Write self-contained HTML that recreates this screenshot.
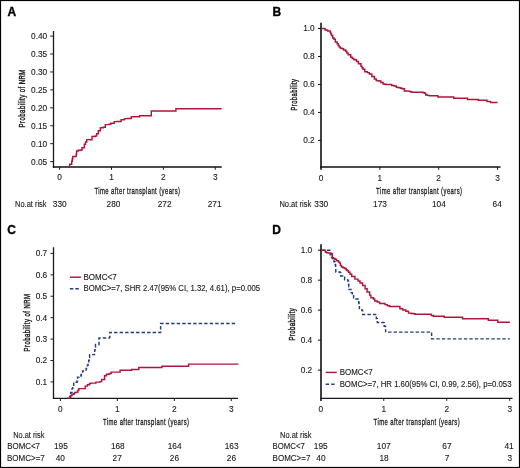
<!DOCTYPE html>
<html><head><meta charset="utf-8"><style>
html,body{margin:0;padding:0;background:#fff;}
body{width:520px;height:468px;overflow:hidden;}
svg{display:block;}
text{font-family:"Liberation Sans",sans-serif;fill:#1a1a1a;stroke:#1a1a1a;stroke-width:0.12px;}
</style></head><body>
<svg width="520" height="468" viewBox="0 0 520 468">
<rect x="0" y="0" width="520" height="468" fill="#fff"/>
<line x1="53.50" y1="31.00" x2="53.50" y2="167.70" stroke="#1a1a1a" stroke-width="1.30" />
<line x1="52.85" y1="167.00" x2="221.70" y2="167.00" stroke="#111" stroke-width="1.60" />
<line x1="50.20" y1="36.10" x2="53.50" y2="36.10" stroke="#1e1e1e" stroke-width="1.00" />
<line x1="50.20" y1="54.03" x2="53.50" y2="54.03" stroke="#1e1e1e" stroke-width="1.00" />
<line x1="50.20" y1="71.96" x2="53.50" y2="71.96" stroke="#1e1e1e" stroke-width="1.00" />
<line x1="50.20" y1="89.89" x2="53.50" y2="89.89" stroke="#1e1e1e" stroke-width="1.00" />
<line x1="50.20" y1="107.82" x2="53.50" y2="107.82" stroke="#1e1e1e" stroke-width="1.00" />
<line x1="50.20" y1="125.75" x2="53.50" y2="125.75" stroke="#1e1e1e" stroke-width="1.00" />
<line x1="50.20" y1="143.68" x2="53.50" y2="143.68" stroke="#1e1e1e" stroke-width="1.00" />
<line x1="50.20" y1="161.61" x2="53.50" y2="161.61" stroke="#1e1e1e" stroke-width="1.00" />
<line x1="59.60" y1="167.00" x2="59.60" y2="169.80" stroke="#1e1e1e" stroke-width="1.00" />
<line x1="111.50" y1="167.00" x2="111.50" y2="169.80" stroke="#1e1e1e" stroke-width="1.00" />
<line x1="163.40" y1="167.00" x2="163.40" y2="169.80" stroke="#1e1e1e" stroke-width="1.00" />
<line x1="215.30" y1="167.00" x2="215.30" y2="169.80" stroke="#1e1e1e" stroke-width="1.00" />
<path d="M67.90,167.00 H69.60 V164.20 H71.70 V161.20 H72.25 V158.80 H72.80 V156.40 H75.40 V156.40 H76.20 V153.90 H76.60 V150.90 H78.20 V150.30 H81.40 V149.90 H82.00 V147.80 H84.30 V144.20 H85.50 V141.90 H86.70 V139.60 H90.00 V139.70 H92.00 V136.40 H95.20 V136.00 H96.60 V133.80 H98.30 V130.70 H100.30 V127.80 H103.20 V127.20 H105.30 V124.60 H109.00 V124.30 H110.70 V123.20 H113.40 V123.20 H114.20 V121.60 H117.25 V121.55 H120.30 V121.50 H121.10 V119.80 H124.00 V119.50 H124.60 V118.60 H127.50 V118.50 H130.40 V118.40 H131.30 V116.70 H133.67 V116.70 H136.03 V116.70 H138.40 V116.70 H139.60 V115.80 H141.94 V115.80 H144.28 V115.80 H146.62 V115.80 H148.96 V115.80 H151.30 V115.80 H151.30 V113.40 H151.30 V111.00 H153.54 V111.00 H155.77 V111.00 H158.01 V111.00 H160.25 V111.00 H162.48 V111.00 H164.72 V111.00 H166.95 V111.00 H169.19 V111.00 H171.43 V111.00 H173.66 V111.00 H175.90 V111.00 H175.90 V108.70 H178.19 V108.70 H180.47 V108.70 H182.75 V108.70 H185.04 V108.70 H187.32 V108.70 H189.61 V108.70 H191.90 V108.70 H194.18 V108.70 H196.47 V108.70 H198.75 V108.70 H201.03 V108.70 H203.32 V108.70 H205.60 V108.70 H207.89 V108.70 H210.18 V108.70 H212.46 V108.70 H214.75 V108.70 H217.03 V108.70 H219.31 V108.70 H221.60 V108.70" fill="none" stroke="#ad163a" stroke-width="1.45" stroke-linejoin="miter" />
<line x1="321.00" y1="22.70" x2="321.00" y2="169.70" stroke="#111" stroke-width="1.60" />
<line x1="320.20" y1="167.00" x2="500.50" y2="167.00" stroke="#111" stroke-width="1.60" />
<line x1="318.00" y1="28.50" x2="321.10" y2="28.50" stroke="#111" stroke-width="1.00" />
<line x1="318.00" y1="56.48" x2="321.10" y2="56.48" stroke="#111" stroke-width="1.00" />
<line x1="318.00" y1="84.45" x2="321.10" y2="84.45" stroke="#111" stroke-width="1.00" />
<line x1="318.00" y1="112.43" x2="321.10" y2="112.43" stroke="#111" stroke-width="1.00" />
<line x1="318.00" y1="140.40" x2="321.10" y2="140.40" stroke="#111" stroke-width="1.00" />
<line x1="379.83" y1="167.00" x2="379.83" y2="169.70" stroke="#111" stroke-width="1.00" />
<line x1="438.66" y1="167.00" x2="438.66" y2="169.70" stroke="#111" stroke-width="1.00" />
<line x1="497.49" y1="167.00" x2="497.49" y2="169.70" stroke="#111" stroke-width="1.00" />
<path d="M321.20,28.50 H323.80 V28.50 H325.00 V30.00 H327.60 V31.00 H330.20 V32.50 H330.85 V34.00 H331.50 V35.50 H332.70 V38.00 H334.00 V39.30 H335.30 V41.90 H337.20 V43.80 H338.20 V45.40 H339.20 V47.00 H340.40 V48.30 H342.40 V48.70 H343.60 V50.00 H345.60 V51.20 H346.85 V52.95 H348.10 V54.70 H350.70 V57.30 H352.30 V58.55 H353.90 V59.80 H356.50 V61.50 H358.40 V63.70 H361.00 V66.20 H361.95 V67.70 H362.90 V69.20 H364.80 V71.70 H367.40 V72.60 H369.30 V73.90 H371.80 V76.50 H374.40 V79.00 H376.20 V80.50 H377.60 V80.75 H379.00 V81.00 H380.80 V82.50 H383.10 V84.00 H384.55 V84.25 H386.00 V84.50 H388.00 V84.50 H390.00 V84.50 H391.70 V85.40 H394.00 V86.00 H396.30 V87.30 H397.75 V87.50 H399.20 V87.70 H400.65 V88.25 H402.10 V88.80 H404.40 V90.90 H406.15 V91.00 H407.90 V91.10 H409.35 V91.55 H410.80 V92.00 H412.50 V92.15 H414.20 V92.30 H415.70 V92.30 H417.20 V92.30 H418.70 V92.30 H420.20 V92.30 H421.70 V92.30 H423.15 V92.75 H424.60 V93.20 H425.70 V95.00 H427.45 V95.35 H429.20 V95.70 H430.80 V95.70 H432.40 V95.70 H434.00 V95.70 H435.60 V95.70 H437.20 V95.70 H437.90 V97.00 H439.39 V97.00 H440.88 V97.00 H442.37 V97.00 H443.86 V97.00 H445.35 V97.00 H446.84 V97.00 H448.33 V97.00 H449.82 V97.00 H451.31 V97.00 H452.80 V97.00 H453.80 V98.20 H455.35 V98.20 H456.90 V98.20 H458.45 V98.20 H460.00 V98.20 H461.55 V98.20 H463.10 V98.20 H464.65 V98.20 H466.20 V98.20 H467.50 V99.40 H468.90 V99.40 H470.30 V99.40 H471.70 V99.40 H473.10 V99.40 H474.50 V99.40 H475.90 V99.40 H477.30 V99.40 H478.30 V100.20 H479.92 V100.20 H481.54 V100.20 H483.16 V100.20 H484.78 V100.20 H486.40 V100.20 H487.00 V101.40 H488.45 V101.50 H489.90 V101.60 H490.60 V102.40 H492.33 V102.40 H494.05 V102.40 H495.77 V102.40 H497.50 V102.40" fill="none" stroke="#ad163a" stroke-width="1.45" stroke-linejoin="miter" />
<line x1="53.50" y1="247.25" x2="53.50" y2="398.95" stroke="#1a1a1a" stroke-width="1.30" />
<line x1="52.85" y1="398.30" x2="238.00" y2="398.30" stroke="#1a1a1a" stroke-width="1.30" />
<line x1="50.50" y1="253.40" x2="53.60" y2="253.40" stroke="#1e1e1e" stroke-width="1.00" />
<line x1="50.50" y1="274.82" x2="53.60" y2="274.82" stroke="#1e1e1e" stroke-width="1.00" />
<line x1="50.50" y1="296.24" x2="53.60" y2="296.24" stroke="#1e1e1e" stroke-width="1.00" />
<line x1="50.50" y1="317.66" x2="53.60" y2="317.66" stroke="#1e1e1e" stroke-width="1.00" />
<line x1="50.50" y1="339.08" x2="53.60" y2="339.08" stroke="#1e1e1e" stroke-width="1.00" />
<line x1="50.50" y1="360.50" x2="53.60" y2="360.50" stroke="#1e1e1e" stroke-width="1.00" />
<line x1="50.50" y1="381.92" x2="53.60" y2="381.92" stroke="#1e1e1e" stroke-width="1.00" />
<line x1="60.40" y1="398.30" x2="60.40" y2="401.00" stroke="#1e1e1e" stroke-width="1.00" />
<line x1="117.37" y1="398.30" x2="117.37" y2="401.00" stroke="#1e1e1e" stroke-width="1.00" />
<line x1="174.34" y1="398.30" x2="174.34" y2="401.00" stroke="#1e1e1e" stroke-width="1.00" />
<line x1="231.31" y1="398.30" x2="231.31" y2="401.00" stroke="#1e1e1e" stroke-width="1.00" />
<line x1="69.90" y1="277.20" x2="80.90" y2="277.20" stroke="#ad163a" stroke-width="1.45" />
<line x1="69.90" y1="288.80" x2="80.00" y2="288.80" stroke="#1f3e82" stroke-width="1.45" stroke-dasharray="3.4 2.1"/>
<path d="M69.40,398.10 H70.05 V395.30 H70.70 V392.50 H72.00 V388.60 H72.80 V386.10 H73.70 V383.10 H75.00 V382.20 H77.10 V380.90 H77.50 V377.10 H79.20 V376.20 H80.90 V375.00 H81.40 V372.80 H82.60 V370.90 H84.80 V370.90 H86.10 V368.50 H87.40 V365.20 H88.05 V362.70 H88.70 V360.20 H89.15 V357.40 H89.60 V354.60 H91.95 V354.60 H94.30 V354.60 H94.50 V352.25 H94.70 V349.90 H95.10 V347.15 H95.50 V344.40 H99.00 V344.20 H99.00 V341.10 H99.00 V338.00 H101.70 V338.00 H104.40 V338.00 H107.10 V338.00 H109.80 V338.00" fill="none" stroke="#1f3e82" stroke-width="1.45" stroke-linejoin="miter" stroke-dasharray="3.4 2.1"/>
<path d="M109.8,338 V332.4 H160.6 V323.5 H236.3" fill="none" stroke="#1f3e82" stroke-width="1.45" stroke-linejoin="miter" stroke-dasharray="3.4 2.1" stroke-dashoffset="1.1"/>
<path d="M67.30,398.10 H69.80 V397.20 H70.70 V395.50 H72.00 V394.20 H73.70 V393.80 H74.50 V392.50 H76.70 V392.10 H77.90 V390.30 H78.80 V388.60 H81.60 V388.60 H84.40 V388.60 H85.20 V386.10 H87.40 V384.80 H89.50 V383.50 H90.80 V383.10 H95.00 V383.10 H95.90 V382.10 H100.10 V381.60 H101.60 V379.40 H104.60 V375.70 H106.40 V374.20 H109.40 V373.40 H111.20 V372.10 H113.87 V372.10 H116.53 V372.10 H119.20 V372.10 H120.10 V370.30 H122.78 V370.30 H125.45 V370.30 H128.12 V370.30 H130.80 V370.30 H131.70 V369.40 H133.90 V369.40 H136.10 V369.40 H138.30 V369.40 H138.80 V367.50 H141.05 V367.50 H143.30 V367.50 H145.55 V367.50 H147.80 V367.50 H150.05 V367.50 H152.30 V367.50 H154.55 V367.50 H156.80 V367.50 H159.05 V367.50 H161.30 V367.50 H161.90 V366.30 H164.12 V366.30 H166.35 V366.30 H168.57 V366.30 H170.80 V366.30 H173.03 V366.30 H175.25 V366.30 H177.47 V366.30 H179.70 V366.30 H181.93 V366.30 H184.15 V366.30 H186.38 V366.30 H188.60 V366.30 H188.60 V364.10 H190.86 V364.10 H193.12 V364.10 H195.38 V364.10 H197.64 V364.10 H199.90 V364.10 H202.15 V364.10 H204.41 V364.10 H206.67 V364.10 H208.93 V364.10 H211.19 V364.10 H213.45 V364.10 H215.71 V364.10 H217.97 V364.10 H220.23 V364.10 H222.49 V364.10 H224.75 V364.10 H227.00 V364.10 H229.26 V364.10 H231.52 V364.10 H233.78 V364.10 H236.04 V364.10 H238.30 V364.10" fill="none" stroke="#ad163a" stroke-width="1.45" stroke-linejoin="miter" />
<line x1="321.00" y1="244.20" x2="321.00" y2="401.00" stroke="#111" stroke-width="1.60" />
<line x1="320.20" y1="398.30" x2="512.50" y2="398.30" stroke="#1a1a1a" stroke-width="1.30" />
<line x1="317.90" y1="250.20" x2="321.10" y2="250.20" stroke="#111" stroke-width="1.00" />
<line x1="317.90" y1="280.17" x2="321.10" y2="280.17" stroke="#111" stroke-width="1.00" />
<line x1="317.90" y1="310.14" x2="321.10" y2="310.14" stroke="#111" stroke-width="1.00" />
<line x1="317.90" y1="340.11" x2="321.10" y2="340.11" stroke="#111" stroke-width="1.00" />
<line x1="317.90" y1="370.08" x2="321.10" y2="370.08" stroke="#111" stroke-width="1.00" />
<line x1="383.77" y1="398.30" x2="383.77" y2="400.90" stroke="#1e1e1e" stroke-width="1.00" />
<line x1="446.74" y1="398.30" x2="446.74" y2="400.90" stroke="#1e1e1e" stroke-width="1.00" />
<line x1="509.71" y1="398.30" x2="509.71" y2="400.90" stroke="#1e1e1e" stroke-width="1.00" />
<line x1="325.70" y1="372.40" x2="336.80" y2="372.40" stroke="#ad163a" stroke-width="1.45" />
<line x1="325.70" y1="384.15" x2="335.50" y2="384.15" stroke="#1f3e82" stroke-width="1.45" stroke-dasharray="3.4 2.1"/>
<path d="M321.50,250.30 H324.13 V250.30 H326.77 V250.30 H329.40 V250.30 H329.80 V252.55 H330.20 V254.80 H331.50 V257.50 H332.50 V259.50 H334.00 V261.80 H335.00 V264.50 H335.60 V268.50 H335.80 V272.00 H340.10 V272.60 H340.80 V275.90 H344.00 V277.20 H344.60 V279.70 H347.80 V281.00 H348.50 V284.20 H348.80 V286.80 H349.10 V289.40 H351.00 V292.60 H352.30 V295.80 H353.60 V299.00 H355.85 V299.00 H358.10 V299.00 H358.70 V302.80 H359.05 V305.70 H359.40 V308.60 H361.90 V310.50 H362.60 V314.40 H365.02 V314.40 H367.44 V314.40 H369.86 V314.40 H372.28 V314.40 H374.70 V314.40 H376.30 V318.50 H377.30 V322.50 H380.40 V322.55 H383.50 V322.60 H384.20 V326.20 H385.50 V329.20 H385.60 V332.10" fill="none" stroke="#1f3e82" stroke-width="1.45" stroke-linejoin="miter" stroke-dasharray="3.4 2.1"/>
<path d="M385.6,332.1 H431.6 V338.85 H509.9" fill="none" stroke="#1f3e82" stroke-width="1.45" stroke-linejoin="miter" stroke-dasharray="3.4 2.1" stroke-dashoffset="3.0"/>
<path d="M321.50,250.30 H325.00 V250.30 H325.40 V251.90 H326.50 V252.70 H328.10 V253.10 H330.00 V253.10 H331.50 V253.80 H332.30 V255.40 H332.30 V257.70 H333.50 V258.50 H335.00 V259.20 H336.50 V260.80 H338.50 V261.90 H339.60 V263.10 H340.40 V265.40 H341.50 V266.90 H343.10 V267.70 H344.60 V268.50 H346.20 V270.00 H347.30 V270.80 H348.50 V272.30 H350.00 V274.20 H351.70 V276.50 H354.90 V279.10 H358.10 V281.00 H360.00 V282.90 H362.60 V285.50 H365.10 V288.70 H367.10 V291.90 H369.60 V295.10 H370.90 V297.70 H373.50 V299.00 H374.70 V300.90 H377.30 V302.00 H379.60 V303.50 H383.50 V303.50 H385.00 V304.60 H387.30 V305.70 H389.60 V306.50 H391.90 V306.50 H394.20 V306.50 H396.50 V306.50 H398.80 V306.50 H399.90 V308.80 H402.70 V310.00 H405.80 V311.20 H408.50 V313.10 H411.00 V313.45 H413.50 V313.80 H415.00 V314.30 H417.30 V314.30 H419.60 V314.30 H421.90 V314.30 H424.20 V314.30 H426.50 V314.30 H428.80 V314.30 H431.20 V315.40 H433.50 V316.20 H435.80 V316.20 H438.10 V316.20 H440.40 V316.20 H442.70 V316.20 H444.20 V317.30 H446.44 V317.30 H448.68 V317.30 H450.91 V317.30 H453.15 V317.30 H455.39 V317.30 H457.62 V317.30 H459.86 V317.30 H462.10 V317.30 H462.50 V318.80 H464.79 V318.80 H467.08 V318.80 H469.37 V318.80 H471.66 V318.80 H473.95 V318.80 H476.25 V318.80 H478.54 V318.80 H480.83 V318.80 H483.12 V318.80 H485.41 V318.80 H487.70 V318.80 H488.30 V320.20 H490.57 V320.20 H492.85 V320.20 H495.12 V320.20 H497.40 V320.20 H497.80 V322.20 H500.22 V322.20 H502.64 V322.20 H505.06 V322.20 H507.48 V322.20 H509.90 V322.20" fill="none" stroke="#ad163a" stroke-width="1.45" stroke-linejoin="miter" />
<g style="filter:grayscale(1)">
<text x="7.40" y="16.40" font-size="12.00" text-anchor="start" font-weight="bold" style="stroke:#000;fill:#000;stroke-width:0.35px">A</text>
<text x="47.20" y="39.00" font-size="8.30" text-anchor="end" font-weight="normal" >0.40</text>
<text x="47.20" y="56.93" font-size="8.30" text-anchor="end" font-weight="normal" >0.35</text>
<text x="47.20" y="74.86" font-size="8.30" text-anchor="end" font-weight="normal" >0.30</text>
<text x="47.20" y="92.79" font-size="8.30" text-anchor="end" font-weight="normal" >0.25</text>
<text x="47.20" y="110.72" font-size="8.30" text-anchor="end" font-weight="normal" >0.20</text>
<text x="47.20" y="128.65" font-size="8.30" text-anchor="end" font-weight="normal" >0.15</text>
<text x="47.20" y="146.58" font-size="8.30" text-anchor="end" font-weight="normal" >0.10</text>
<text x="47.20" y="164.51" font-size="8.30" text-anchor="end" font-weight="normal" >0.05</text>
<text x="59.60" y="180.30" font-size="8.30" text-anchor="middle" font-weight="normal" >0</text>
<text x="111.50" y="180.30" font-size="8.30" text-anchor="middle" font-weight="normal" >1</text>
<text x="163.40" y="180.30" font-size="8.30" text-anchor="middle" font-weight="normal" >2</text>
<text x="215.30" y="180.30" font-size="8.30" text-anchor="middle" font-weight="normal" >3</text>
<text x="94.50" y="193.85" font-size="9.90" style="stroke-width:0.32px" letter-spacing="0.7" textLength="86.00" lengthAdjust="spacingAndGlyphs">Time after transplant (years)</text>
<text transform="translate(25.40,127.40) rotate(-90)" x="0" y="0" font-size="9.90" style="stroke-width:0.42px" letter-spacing="0.7" textLength="58.20" lengthAdjust="spacingAndGlyphs">Probability of NRM</text>
<text x="15.10" y="206.60" font-size="8.30" text-anchor="start" font-weight="normal"  textLength="31.40" lengthAdjust="spacingAndGlyphs">No.at risk</text>
<text x="59.70" y="206.60" font-size="8.30" text-anchor="middle" font-weight="normal" >330</text>
<text x="113.50" y="206.60" font-size="8.30" text-anchor="middle" font-weight="normal" >280</text>
<text x="164.60" y="206.60" font-size="8.30" text-anchor="middle" font-weight="normal" >272</text>
<text x="214.60" y="206.60" font-size="8.30" text-anchor="middle" font-weight="normal" >271</text>
<text x="272.50" y="16.40" font-size="12.00" text-anchor="start" font-weight="bold" style="stroke:#000;fill:#000;stroke-width:0.35px">B</text>
<text x="314.70" y="31.40" font-size="8.30" text-anchor="end" font-weight="normal" >1.0</text>
<text x="314.70" y="59.38" font-size="8.30" text-anchor="end" font-weight="normal" >0.8</text>
<text x="314.70" y="87.35" font-size="8.30" text-anchor="end" font-weight="normal" >0.6</text>
<text x="314.70" y="115.33" font-size="8.30" text-anchor="end" font-weight="normal" >0.4</text>
<text x="314.70" y="143.30" font-size="8.30" text-anchor="end" font-weight="normal" >0.2</text>
<text x="321.00" y="180.70" font-size="8.30" text-anchor="middle" font-weight="normal" >0</text>
<text x="379.83" y="180.70" font-size="8.30" text-anchor="middle" font-weight="normal" >1</text>
<text x="438.66" y="180.70" font-size="8.30" text-anchor="middle" font-weight="normal" >2</text>
<text x="497.49" y="180.70" font-size="8.30" text-anchor="middle" font-weight="normal" >3</text>
<text x="376.10" y="193.85" font-size="9.90" style="stroke-width:0.32px" letter-spacing="0.7" textLength="86.40" lengthAdjust="spacingAndGlyphs">Time after transplant (years)</text>
<text transform="translate(297.10,110.50) rotate(-90)" x="0" y="0" font-size="9.90" style="stroke-width:0.42px" letter-spacing="0.7" textLength="31.80" lengthAdjust="spacingAndGlyphs">Probability</text>
<text x="279.40" y="206.60" font-size="8.30" text-anchor="start" font-weight="normal"  textLength="31.80" lengthAdjust="spacingAndGlyphs">No.at risk</text>
<text x="321.20" y="206.60" font-size="8.30" text-anchor="middle" font-weight="normal" >330</text>
<text x="380.00" y="206.60" font-size="8.30" text-anchor="middle" font-weight="normal" >173</text>
<text x="438.85" y="206.60" font-size="8.30" text-anchor="middle" font-weight="normal" >104</text>
<text x="497.20" y="206.60" font-size="8.30" text-anchor="middle" font-weight="normal" >64</text>
<text x="7.30" y="234.40" font-size="12.00" text-anchor="start" font-weight="bold" style="stroke:#000;fill:#000;stroke-width:0.35px">C</text>
<text x="47.20" y="256.30" font-size="8.30" text-anchor="end" font-weight="normal" >0.7</text>
<text x="47.20" y="277.72" font-size="8.30" text-anchor="end" font-weight="normal" >0.6</text>
<text x="47.20" y="299.14" font-size="8.30" text-anchor="end" font-weight="normal" >0.5</text>
<text x="47.20" y="320.56" font-size="8.30" text-anchor="end" font-weight="normal" >0.4</text>
<text x="47.20" y="341.98" font-size="8.30" text-anchor="end" font-weight="normal" >0.3</text>
<text x="47.20" y="363.40" font-size="8.30" text-anchor="end" font-weight="normal" >0.2</text>
<text x="47.20" y="384.82" font-size="8.30" text-anchor="end" font-weight="normal" >0.1</text>
<text x="60.40" y="411.70" font-size="8.30" text-anchor="middle" font-weight="normal" >0</text>
<text x="117.37" y="411.70" font-size="8.30" text-anchor="middle" font-weight="normal" >1</text>
<text x="174.34" y="411.70" font-size="8.30" text-anchor="middle" font-weight="normal" >2</text>
<text x="231.31" y="411.70" font-size="8.30" text-anchor="middle" font-weight="normal" >3</text>
<text x="102.90" y="424.50" font-size="9.90" style="stroke-width:0.32px" letter-spacing="0.7" textLength="86.60" lengthAdjust="spacingAndGlyphs">Time after transplant (years)</text>
<text transform="translate(30.40,351.40) rotate(-90)" x="0" y="0" font-size="9.90" style="stroke-width:0.42px" letter-spacing="0.7" textLength="57.80" lengthAdjust="spacingAndGlyphs">Probability of NRM</text>
<text x="83.50" y="279.70" font-size="8.30" text-anchor="start" font-weight="normal"  textLength="33.20" lengthAdjust="spacingAndGlyphs">BOMC&lt;7</text>
<text x="83.50" y="290.70" font-size="8.30" text-anchor="start" font-weight="normal"  textLength="176.60" lengthAdjust="spacingAndGlyphs">BOMC&gt;=7, SHR 2.47(95% CI, 1.32, 4.61), p=0.005</text>
<text x="13.20" y="437.50" font-size="8.30" text-anchor="start" font-weight="normal"  textLength="31.20" lengthAdjust="spacingAndGlyphs">No.at risk</text>
<text x="7.20" y="449.10" font-size="8.30" text-anchor="start" font-weight="normal"  textLength="32.80" lengthAdjust="spacingAndGlyphs">BOMC&lt;7</text>
<text x="6.90" y="460.80" font-size="8.30" text-anchor="start" font-weight="normal"  textLength="37.90" lengthAdjust="spacingAndGlyphs">BOMC&gt;=7</text>
<text x="60.90" y="449.30" font-size="8.30" text-anchor="middle" font-weight="normal" >195</text>
<text x="117.80" y="449.30" font-size="8.30" text-anchor="middle" font-weight="normal" >168</text>
<text x="174.60" y="449.30" font-size="8.30" text-anchor="middle" font-weight="normal" >164</text>
<text x="231.60" y="449.30" font-size="8.30" text-anchor="middle" font-weight="normal" >163</text>
<text x="60.25" y="460.80" font-size="8.30" text-anchor="middle" font-weight="normal" >40</text>
<text x="117.20" y="460.80" font-size="8.30" text-anchor="middle" font-weight="normal" >27</text>
<text x="174.40" y="460.80" font-size="8.30" text-anchor="middle" font-weight="normal" >26</text>
<text x="231.40" y="460.80" font-size="8.30" text-anchor="middle" font-weight="normal" >26</text>
<text x="272.20" y="234.00" font-size="12.00" text-anchor="start" font-weight="bold" style="stroke:#000;fill:#000;stroke-width:0.35px">D</text>
<text x="312.20" y="253.10" font-size="8.30" text-anchor="end" font-weight="normal" >1.0</text>
<text x="312.20" y="283.07" font-size="8.30" text-anchor="end" font-weight="normal" >0.8</text>
<text x="312.20" y="313.04" font-size="8.30" text-anchor="end" font-weight="normal" >0.6</text>
<text x="312.20" y="343.01" font-size="8.30" text-anchor="end" font-weight="normal" >0.4</text>
<text x="312.20" y="372.98" font-size="8.30" text-anchor="end" font-weight="normal" >0.2</text>
<text x="320.80" y="411.60" font-size="8.30" text-anchor="middle" font-weight="normal" >0</text>
<text x="383.77" y="411.60" font-size="8.30" text-anchor="middle" font-weight="normal" >1</text>
<text x="446.74" y="411.60" font-size="8.30" text-anchor="middle" font-weight="normal" >2</text>
<text x="509.71" y="411.60" font-size="8.30" text-anchor="middle" font-weight="normal" >3</text>
<text x="373.60" y="424.70" font-size="9.90" style="stroke-width:0.32px" letter-spacing="0.7" textLength="86.50" lengthAdjust="spacingAndGlyphs">Time after transplant (years)</text>
<text transform="translate(295.10,340.60) rotate(-90)" x="0" y="0" font-size="9.90" style="stroke-width:0.42px" letter-spacing="0.7" textLength="32.80" lengthAdjust="spacingAndGlyphs">Probability</text>
<text x="339.70" y="375.10" font-size="8.30" text-anchor="start" font-weight="normal"  textLength="33.00" lengthAdjust="spacingAndGlyphs">BOMC&lt;7</text>
<text x="339.70" y="386.90" font-size="8.30" text-anchor="start" font-weight="normal"  textLength="171.80" lengthAdjust="spacingAndGlyphs">BOMC&gt;=7, HR 1.60(95% CI, 0.99, 2.56), p=0.053</text>
<text x="280.10" y="437.50" font-size="8.30" text-anchor="start" font-weight="normal"  textLength="31.40" lengthAdjust="spacingAndGlyphs">No.at risk</text>
<text x="272.60" y="449.30" font-size="8.30" text-anchor="start" font-weight="normal"  textLength="32.30" lengthAdjust="spacingAndGlyphs">BOMC&lt;7</text>
<text x="272.60" y="460.60" font-size="8.30" text-anchor="start" font-weight="normal"  textLength="37.80" lengthAdjust="spacingAndGlyphs">BOMC&gt;=7</text>
<text x="320.70" y="449.30" font-size="8.30" text-anchor="middle" font-weight="normal" >195</text>
<text x="383.70" y="449.30" font-size="8.30" text-anchor="middle" font-weight="normal" >107</text>
<text x="446.90" y="449.30" font-size="8.30" text-anchor="middle" font-weight="normal" >67</text>
<text x="509.10" y="449.30" font-size="8.30" text-anchor="middle" font-weight="normal" >41</text>
<text x="320.90" y="460.80" font-size="8.30" text-anchor="middle" font-weight="normal" >40</text>
<text x="384.00" y="460.80" font-size="8.30" text-anchor="middle" font-weight="normal" >18</text>
<text x="447.00" y="460.80" font-size="8.30" text-anchor="middle" font-weight="normal" >7</text>
<text x="509.70" y="460.80" font-size="8.30" text-anchor="middle" font-weight="normal" >3</text>
</g>
<rect x="0.5" y="0.5" width="519" height="467" fill="none" stroke="#000" stroke-width="1.2"/>
</svg>
</body></html>
